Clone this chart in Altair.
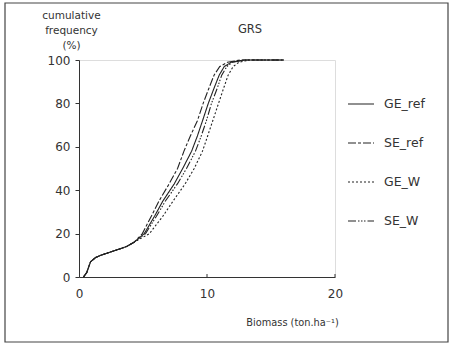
import altair as alt
import pandas as pd

series = ["GE_ref", "SE_ref", "GE_W", "SE_W"]
dashes = [[1, 0], [8, 2, 3, 2], [2, 2], [8, 2, 1.5, 1.5, 1.5, 1.5, 1.5, 2]]

y_common = [0, 2, 7, 9, 10, 12, 14, 16]
x_common = [0.35, 0.6, 0.9, 1.3, 1.7, 2.7, 3.7, 4.3]
y_upper = [20, 28, 35, 43, 50, 58, 65, 72, 80, 87, 93, 97, 99, 100, 100]
x_ge_ref = [5.1, 5.9, 6.55, 7.45, 8.1, 8.8, 9.25, 9.65, 10.1, 10.55, 10.95, 11.35, 11.9, 12.9, 16]
x_se_ref = [4.95, 5.65, 6.25, 7.05, 7.7, 8.2, 8.7, 9.25, 9.7, 10.15, 10.55, 11.0, 11.6, 12.6, 16]
x_ge_w = [5.5, 6.55, 7.35, 8.3, 9.0, 9.65, 10.05, 10.45, 10.9, 11.3, 11.65, 12.05, 12.5, 13.3, 16]
x_se_w = [5.2, 6.05, 6.75, 7.7, 8.4, 9.1, 9.55, 9.95, 10.35, 10.8, 11.15, 11.55, 12.0, 13.0, 16]

x_ticks = [0, 10, 20]
y_ticks = [0, 20, 40, 60, 80, 100]
panel_title = ["GRS"]

rows = []
for name, xu in zip(series, [x_ge_ref, x_se_ref, x_ge_w, x_se_w]):
    xs = x_common + xu
    ys = y_common + y_upper
    for i, (xv, yv) in enumerate(zip(xs, ys)):
        rows.append({"series": name, "biomass": xv, "freq": yv, "i": i})
df = pd.DataFrame(rows)

W, H = 256, 217
FONT = "DejaVu Sans"
TXT = "#333333"

lines = alt.Chart(df).mark_line(strokeWidth=1.1, color="#222222").encode(
    x=alt.X("biomass:Q", scale=alt.Scale(domain=[0, 20], nice=False),
            axis=alt.Axis(values=x_ticks, title="Biomass (ton.ha⁻¹)", grid=False,
                          ticks=False, tickSize=0, labelPadding=11, labelFontSize=12,
                          labelFlush=False,
                          labelFont=FONT, labelColor=TXT, domainColor="#333333",
                          titleFont=FONT, titleFontSize=9.8, titleFontWeight="normal",
                          titleColor=TXT, titleX=213, titleY=45, titleAlign="center",
                          titleBaseline="middle")),
    y=alt.Y("freq:Q", scale=alt.Scale(domain=[0, 100], nice=False),
            axis=alt.Axis(values=y_ticks, title=["cumulative", "frequency", "(%)"],
                          grid=False, tickSize=4, labelPadding=5, labelFontSize=12,
                          labelFlush=False,
                          labelFont=FONT, labelColor=TXT, domainColor="#333333",
                          tickColor="#333333",
                          titleFont=FONT, titleFontSize=10.5, titleFontWeight="normal",
                          titleColor=TXT, titleAngle=0, titleX=-8, titleY=-50,
                          titleAlign="center", titleBaseline="top", titleLineHeight=15)),
    strokeDash=alt.StrokeDash("series:N", scale=alt.Scale(domain=series, range=dashes),
                              legend=alt.Legend(title=None, orient="none", legendX=268,
                                                legendY=30, symbolType="stroke",
                                                symbolSize=676, symbolStrokeWidth=1.2,
                                                symbolStrokeColor="#222222",
                                                labelFont=FONT, labelFontSize=12.5,
                                                labelColor=TXT, labelOffset=9,
                                                rowPadding=18)),
    order="i:Q",
)

tick_df = pd.DataFrame({"t": x_ticks[1:]})
xticks = alt.Chart(tick_df).mark_rule(color="#333333", strokeWidth=1).encode(
    x=alt.X("t:Q"), y=alt.value(H - 3), y2=alt.value(H)
)

frame = alt.Chart(pd.DataFrame({"a": [0]})).mark_rect(
    fill=None, stroke="#444444", strokeWidth=1.2, clip=False
).encode(x=alt.value(-74), x2=alt.value(369), y=alt.value(-57), y2=alt.value(282))

title_txt = alt.Chart(pd.DataFrame({"t": panel_title})).mark_text(
    font=FONT, fontSize=11.5, color=TXT, align="center", baseline="middle"
).encode(text="t:N", x=alt.value(171), y=alt.value(-30))

chart = alt.layer(frame, lines, xticks, title_txt).properties(
    width=W, height=H,
    autosize=alt.AutoSizeParams(type="none"),
    padding={"left": 79, "top": 60, "right": 116, "bottom": 68},
).configure_view(stroke=None).configure(background="white")

chart.save("out.html", embed_options={"renderer": "svg", "actions": False})
